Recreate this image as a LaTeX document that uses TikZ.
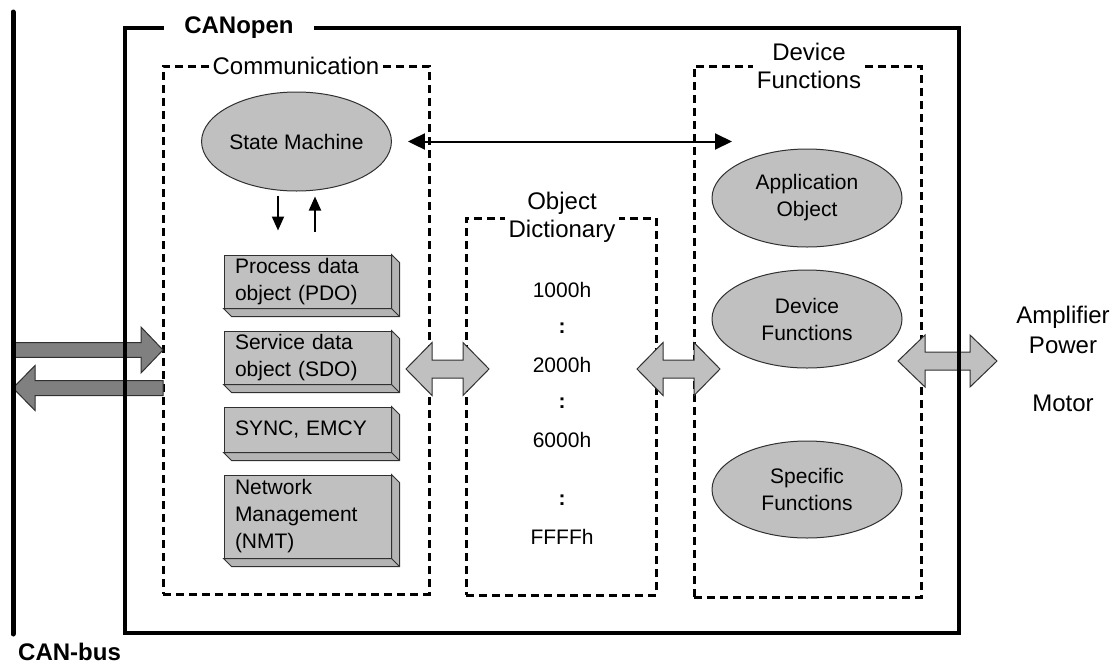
\documentclass[tikz,border=0pt]{standalone}
\usepackage{fontspec}
\setmainfont{Liberation Sans}
\usetikzlibrary{shapes.geometric,arrows.meta,calc}

\newcommand\fsSmall{\fontsize{21}{27}\selectfont}
\newcommand\fsLarge{\fontsize{24}{28.5}\selectfont}

% block arrow with one head: style, tail x, tip x, y, head length (signed), half shaft, half head
\newcommand\blockone[7]{%
  \draw[#1] (#2,{#4-#6}) -- ({#3-#5},{#4-#6}) -- ({#3-#5},{#4-#7}) -- (#3,#4)
    -- ({#3-#5},{#4+#7}) -- ({#3-#5},{#4+#6}) -- (#2,{#4+#6}) -- cycle;}
% block arrow with two heads: style, left x, right x, y, head length, half shaft, half head
\newcommand\blocktwo[7]{%
  \draw[#1] (#2,#4) -- ({#2+#5},{#4-#7}) -- ({#2+#5},{#4-#6}) -- ({#3-#5},{#4-#6})
    -- ({#3-#5},{#4-#7}) -- (#3,#4) -- ({#3-#5},{#4+#7}) -- ({#3-#5},{#4+#6})
    -- ({#2+#5},{#4+#6}) -- ({#2+#5},{#4+#7}) -- cycle;}

\definecolor{lightfill}{HTML}{C0C0C0}
\definecolor{sidefill}{HTML}{B4B4B4}
\definecolor{darkfill}{HTML}{808080}
\definecolor{edge}{HTML}{303030}

\begin{document}
\begin{tikzpicture}[x=1pt,y=-1pt,
  dashbox/.style={draw, dash pattern=on 8pt off 5pt, line width=3pt, inner sep=0pt},
  framebox/.style={draw, line width=3.2pt, inner sep=0pt},
  title/.style={font=\fsLarge, fill=white, align=center, inner sep=3pt},
  oval/.style={ellipse, draw=edge, line width=1pt, fill=lightfill, font=\fsSmall,
    align=center, inner sep=0pt},
  slab/.style={draw=edge, line width=1pt, fill=lightfill, font=\fsSmall, align=left,
    text width=145pt, inner xsep=11pt, inner ysep=0pt, minimum width=167pt},
  slabside/.style={draw=edge, line width=1pt, fill=sidefill},
  entry/.style={font=\fsSmall, inner sep=0pt},
  gap/.style={font=\fsSmall\bfseries, inner sep=0pt},
  thinarrow/.style={line width=2pt, -{Triangle[length=14pt,width=12pt]}},
  linkarrow/.style={line width=2pt, {Triangle[length=17pt,width=16pt]}-{Triangle[length=17pt,width=16pt]}},
  busarrow/.style={draw=edge, line width=1pt, fill=darkfill},
  flowarrow/.style={draw=edge, line width=1pt, fill=lightfill}]

\useasboundingbox (0,0) rectangle (1117,665);

% dashed groups
\node[dashbox, minimum width=266pt, minimum height=528pt] (comm) at (296,330) {};
\node[dashbox, minimum width=190pt, minimum height=377pt] (od) at (561,406.5) {};
\node[dashbox, minimum width=227pt, minimum height=531pt] (df) at (807.5,331.5) {};

% communication objects
\node[oval, minimum width=189pt, minimum height=99pt] (sm) at (296.5,141.5) {State Machine};

\node[slab, minimum height=53pt] (pdo) at (307.5,281.5) {Process data\\object (PDO)};
\node[slab, minimum height=53pt] (sdo) at (307.5,357.5) {Service data\\object (SDO)};
\node[slab, minimum height=45pt] (sync) at (307.5,429.5) {SYNC, EMCY};
\node[slab, minimum height=83pt] (nmt) at (307.5,516.5) {Network\\Management\\(NMT)};

% bevelled right and bottom faces of the object slabs
\foreach \b in {pdo,sdo,sync,nmt}{
  \draw[slabside] (\b.north east) -- ++(8,8) -- ($(\b.south east)+(8,8)$)
    -- ($(\b.south west)+(8,8)$) -- (\b.south west) -- (\b.south east) -- cycle;
  \draw[slabside] (\b.south east) -- ++(8,8);
}

% object dictionary entries
\node[entry] (e1) at (562,290) {1000h};
\node[gap] (c1) at (562,328) {:};
\node[entry] (e2) at (562,365) {2000h};
\node[gap] (c2) at (562,403) {:};
\node[entry] (e3) at (562,440) {6000h};
\node[gap] (c3) at (562,500) {:};
\node[entry] (e4) at (562,537) {FFFFh};

% device functions
\node[oval, minimum width=190pt, minimum height=98pt] (app) at (807,198) {Application\\Object};
\node[oval, minimum width=190pt, minimum height=98pt] (devf) at (807,319) {Device\\Functions};
\node[oval, minimum width=190pt, minimum height=97pt] (spec) at (807,489.5) {Specific\\Functions};

% outside world
\node[font=\fsLarge, inner sep=0pt] (amp) at (1063,317) {Amplifier};
\node[font=\fsLarge, inner sep=0pt] (pow) at (1063,345) {Power};
\node[font=\fsLarge, inner sep=0pt] (mot) at (1063,403) {Motor};

% arrows between state machine and the objects
\coordinate (dnx) at (278,0);
\coordinate (upx) at (315,0);
\draw[thinarrow, shorten <=4pt, shorten >=24pt] (sm.south -| dnx) -- (pdo.north -| dnx);
\draw[thinarrow, shorten <=23pt, shorten >=5pt] (pdo.north -| upx) -- (sm.south -| upx);
\coordinate (dfentry) at (732,141.5);
\draw[linkarrow, shorten <=16pt] (sm.east) -- (dfentry);

% data flow
\blockone{busarrow}{13}{163}{350}{22}{7.3}{23}
\blockone{busarrow}{163}{13}{388}{-22}{7.5}{22.5}
\blocktwo{flowarrow}{406}{489}{369}{26}{9}{26.5}
\blocktwo{flowarrow}{637}{720}{369}{26}{9}{26.5}
\blocktwo{flowarrow}{898}{997}{361}{27}{9}{26}

% CANopen frame and bus
\node[framebox, minimum width=834pt, minimum height=605pt] (canopen) at (542,330.5) {};
\coordinate (bustop) at (13,12);
\coordinate (busbot) at (13,634);
\draw[line width=5pt, line cap=round] (bustop) -- (busbot);

% titles
\node[title, font=\fsLarge\bfseries, inner xsep=20pt, inner ysep=1pt] at (239,28) {CANopen};
\node[title] at (296,66) {Communication};
\node[title, inner xsep=4pt, inner ysep=0pt] at (562,217.5) {Object\\Dictionary};
\node[title, inner xsep=4pt, inner ysep=0pt] at (809,66) {Device\\Functions};
\node[font=\fsLarge\bfseries, anchor=west, inner sep=0pt] (bus) at (18,652) {CAN-bus};
\end{tikzpicture}
\end{document}
